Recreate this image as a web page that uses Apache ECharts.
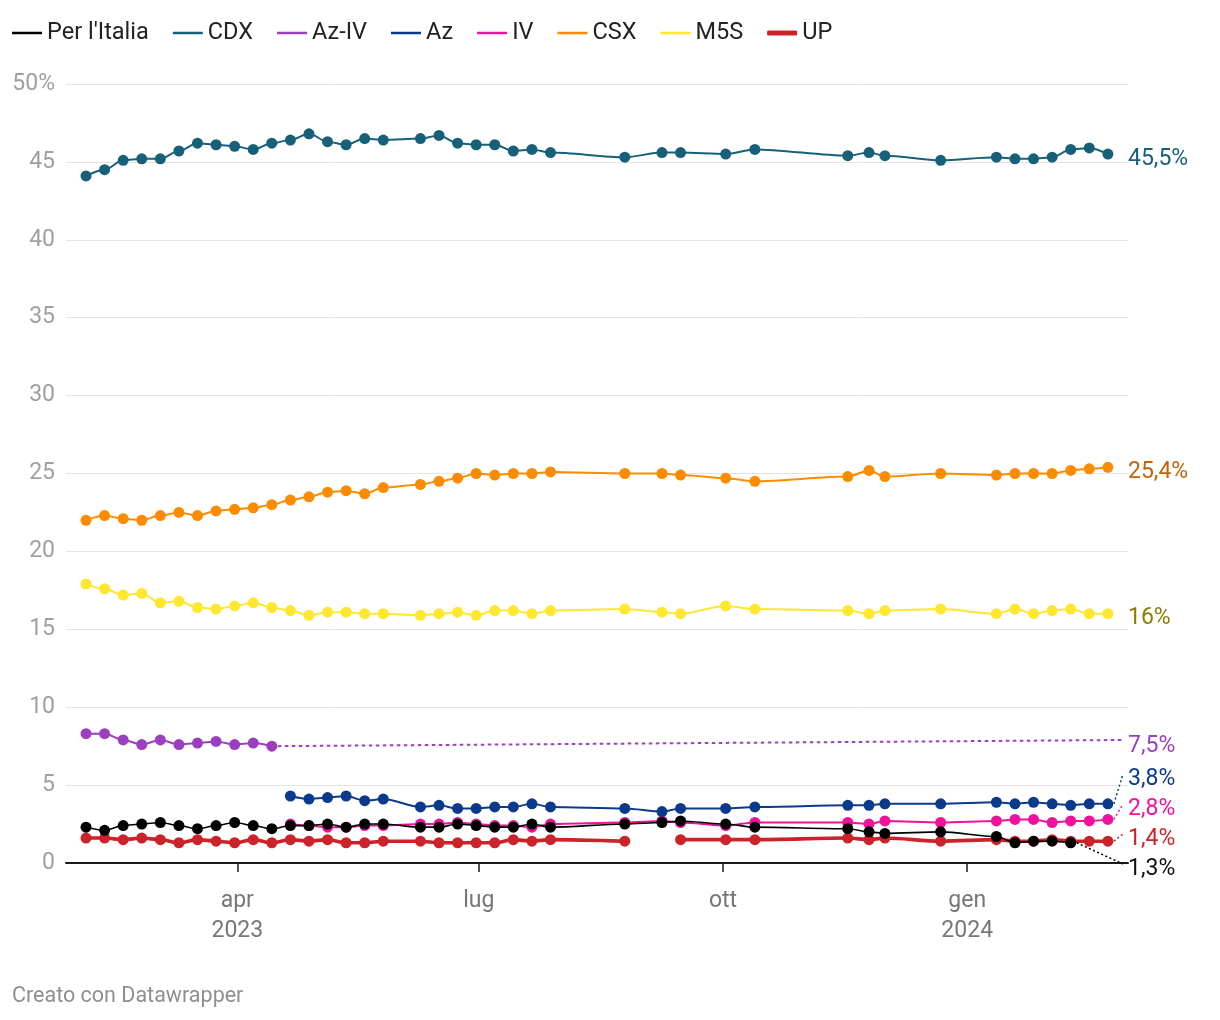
<!DOCTYPE html>
<html>
<head>
<meta charset="utf-8">
<script src="https://cdn.jsdelivr.net/npm/echarts@6/dist/echarts.min.js"></script>
<style>
html,body{margin:0;padding:0;background:#ffffff;}
#chart{width:1220px;height:1020px;}
</style>
</head>
<body>
<div id="chart"></div>
<script>
// ---------- DATA ----------
const dates = [
  '2023-02-03','2023-02-10','2023-02-17','2023-02-24','2023-03-03','2023-03-10','2023-03-17','2023-03-24',
  '2023-03-31','2023-04-07','2023-04-14','2023-04-21','2023-04-28','2023-05-05','2023-05-12','2023-05-19',
  '2023-05-26','2023-06-09','2023-06-16','2023-06-23','2023-06-30','2023-07-07','2023-07-14','2023-07-21',
  '2023-07-28','2023-08-25','2023-09-08','2023-09-15','2023-10-02','2023-10-13','2023-11-17','2023-11-25',
  '2023-12-01','2023-12-22','2024-01-12','2024-01-19','2024-01-26','2024-02-02','2024-02-09','2024-02-16',
  '2024-02-23'
];
const seriesNames = ["Per l'Italia", 'CDX', 'Az-IV', 'Az', 'IV', 'CSX', 'M5S', 'UP'];

const perItalia = [2.3,2.1,2.4,2.5,2.6,2.4,2.2,2.4,2.6,2.4,2.2,2.4,2.4,2.5,2.3,2.5,2.5,
  2.3,2.3,2.5,2.4,2.3,2.3,2.5,2.3,
  2.5,2.6,2.7,2.5,2.3,2.2,2.0,1.9,2.0,1.7,1.3,1.4,1.4,1.3,null,null];
const cdx = [44.1,44.5,45.1,45.2,45.2,45.7,46.2,46.1,46.0,45.8,46.2,46.4,46.8,46.3,46.1,46.5,46.4,
  46.5,46.7,46.2,46.1,46.1,45.7,45.8,45.6,
  45.3,45.6,45.6,45.5,45.8,45.4,45.6,45.4,45.1,45.3,45.2,45.2,45.3,45.8,45.9,45.5];
const azIv = [8.3,8.3,7.9,7.6,7.9,7.6,7.7,7.8,7.6,7.7,7.5,
  null,null,null,null,null,null,null,null,null,null,null,null,null,null,null,
  null,null,null,null,null,null,null,null,null,null,null,null,null,null,null];
const az = [null,null,null,null,null,null,null,null,null,null,null,4.3,4.1,4.2,4.3,4.0,4.1,
  3.6,3.7,3.5,3.5,3.6,3.6,3.8,3.6,
  3.5,3.3,3.5,3.5,3.6,3.7,3.7,3.8,3.8,3.9,3.8,3.9,3.8,3.7,3.8,3.8];
const iv = [null,null,null,null,null,null,null,null,null,null,null,2.5,2.4,2.3,2.3,2.4,2.4,
  2.5,2.5,2.6,2.5,2.4,2.4,2.3,2.5,
  2.6,2.7,2.6,2.4,2.6,2.6,2.5,2.7,2.6,2.7,2.8,2.8,2.6,2.7,2.7,2.8];
const csx = [22.0,22.3,22.1,22.0,22.3,22.5,22.3,22.6,22.7,22.8,23.0,23.3,23.5,23.8,23.9,23.7,24.1,
  24.3,24.5,24.7,25.0,24.9,25.0,25.0,25.1,
  25.0,25.0,24.9,24.7,24.5,24.8,25.2,24.8,25.0,24.9,25.0,25.0,25.0,25.2,25.3,25.4];
const m5s = [17.9,17.6,17.2,17.3,16.7,16.8,16.4,16.3,16.5,16.7,16.4,16.2,15.9,16.1,16.1,16.0,16.0,
  15.9,16.0,16.1,15.9,16.2,16.2,16.0,16.2,
  16.3,16.1,16.0,16.5,16.3,16.2,16.0,16.2,16.3,16.0,16.3,16.0,16.2,16.3,16.0,16.0];
const up = [1.6,1.6,1.5,1.6,1.5,1.3,1.5,1.4,1.3,1.5,1.3,1.5,1.4,1.5,1.3,1.3,1.4,
  1.4,1.3,1.3,1.3,1.3,1.5,1.4,1.5,
  1.4,null,1.5,1.5,1.5,1.6,1.5,1.6,1.4,1.5,1.4,1.4,1.5,1.4,1.4,1.4];

const xTickDates = ['2023-04-01','2023-07-01','2023-10-01','2024-01-01'];
const xTickLabels = ['apr\n2023','lug','ott','gen\n2024'];
const yMin = 0, yMax = 50, yStep = 5;
const footerText = 'Creato con Datawrapper';

// ---------- STYLES ----------
const FONT = 'Roboto, "Noto Sans", sans-serif';
const FS = 23;
const seriesValues = [perItalia, cdx, azIv, az, iv, csx, m5s, up];
const styles = [
  {color:'#000000', width:1.6, label:'#111111', z:9},
  {color:'#176079', width:2,   label:'#176079', z:8},
  {color:'#9b3fbe', width:2,   label:'#9b3fbe', z:7},
  {color:'#0b3a8d', width:2,   label:'#0b3a8d', z:6},
  {color:'#f0129c', width:2,   label:'#f0129c', z:5},
  {color:'#fb8c00', width:2,   label:'#c2630a', z:4},
  {color:'#fde72f', width:2,   label:'#8c7c06', z:3},
  {color:'#cc2229', width:3.6, label:'#cc2229', z:2}
];

function ts(s) {
  const p = s.split('-').map(Number);
  return new Date(p[0], p[1] - 1, p[2]).getTime();
}
const xTickTs = xTickDates.map(ts);
const xMin = new Date(2023, 0, 26, 11).getTime();
const xMax = new Date(2024, 2, 1, 14).getTime();

const thinIcon = 'path://M0,0h30v0.001h-30z M0,1.2h30v2.6h-30z M0,4.999h30v0.001h-30z';

const option = {
  animation: false,
  backgroundColor: '#ffffff',
  textStyle: {fontFamily: FONT},
  grid: {left: 66, right: 92, top: 84, bottom: 157, containLabel: false, outerBoundsMode: 'none'},
  legend: {
    left: 12, top: 21, padding: 0, itemWidth: 30, itemHeight: 5, itemGap: 24, selectedMode: false,
    textStyle: {fontSize: 23.5, color: '#222222', fontFamily: FONT},
    data: seriesNames.map(n => ({name: n, icon: n === 'UP' ? 'roundRect' : thinIcon}))
  },
  xAxis: {
    type: 'value', min: xMin, max: xMax, scale: true,
    axisLine: {show: true, onZero: false, lineStyle: {color: '#1a1a1a', width: 2}},
    axisTick: {show: true, customValues: xTickTs, length: 9, lineStyle: {color: '#1a1a1a', width: 1.5}},
    axisLabel: {
      customValues: xTickTs, color: '#777777', fontSize: FS, lineHeight: 30, margin: 23, fontFamily: FONT,
      formatter: function (v) {
        const i = xTickTs.indexOf(v);
        return i >= 0 ? xTickLabels[i] : '';
      }
    },
    splitLine: {show: false}
  },
  yAxis: {
    type: 'value', min: yMin, max: yMax, interval: yStep,
    axisLine: {show: false}, axisTick: {show: false},
    axisLabel: {
      color: '#a0a0a0', fontSize: FS, margin: 11, fontFamily: FONT,
      formatter: v => (v === yMax ? v + '%' : String(v))
    },
    splitLine: {show: true, lineStyle: {color: '#e4e4e4', width: 1}}
  },
  series: seriesNames.map((name, k) => ({
    type: 'line', name: name,
    data: dates.map((d, i) => [ts(d), seriesValues[k][i] == null ? '-' : seriesValues[k][i]]),
    smooth: 0.3, smoothMonotone: 'x',
    symbol: 'circle', symbolSize: 11, showSymbol: true, showAllSymbol: true,
    connectNulls: false,
    z: styles[k].z,
    lineStyle: {color: styles[k].color, width: styles[k].width},
    itemStyle: {color: styles[k].color},
    emphasis: {disabled: true},
    silent: true
  }))
};

const chart = echarts.init(document.getElementById('chart'), null, {renderer: 'canvas'});
chart.setOption(option);

// ---------- END LABELS (positions computed from the chart's own scales) ----------
function fmt(v) {
  return (Number.isInteger(v) ? String(v) : v.toFixed(1).replace('.', ',')) + '%';
}
const lastIdxAll = dates.length - 1;
const items = seriesNames.map((name, k) => {
  let idx = -1;
  for (let i = seriesValues[k].length - 1; i >= 0; i--) { if (seriesValues[k][i] != null) { idx = i; break; } }
  const v = seriesValues[k][idx];
  const p = chart.convertToPixel({gridIndex: 0}, [ts(dates[idx]), v]);
  return {k: k, idx: idx, v: v, px: p[0], py: p[1], y: p[1]};
});
const gridBottomPx = chart.convertToPixel({gridIndex: 0}, [xMin, yMin])[1];
const rightPx = chart.convertToPixel({gridIndex: 0}, [xMax, yMin])[0];
const GAP = 30, MAXY = gridBottomPx + 1;
let sorted = items.slice().sort((a, b) => a.py - b.py);
let groups = sorted.map(it => ({members: [it]}));
function layout(g) {
  const n = g.members.length;
  const mean = g.members.reduce((s, m) => s + m.py, 0) / n;
  let top = mean - (n - 1) * GAP / 2;
  if (top + (n - 1) * GAP > MAXY) top = MAXY - (n - 1) * GAP;
  g.top = top; g.bottom = top + (n - 1) * GAP;
}
groups.forEach(layout);
let changed = true;
while (changed) {
  changed = false;
  for (let i = 0; i < groups.length - 1; i++) {
    if (groups[i + 1].top - groups[i].bottom < GAP) {
      groups[i].members = groups[i].members.concat(groups[i + 1].members);
      groups.splice(i + 1, 1);
      layout(groups[i]);
      changed = true;
      break;
    }
  }
}
groups.forEach(g => g.members.forEach((m, j) => { m.y = g.top + j * GAP; }));

const graphics = [];
items.forEach(it => {
  const st = styles[it.k];
  const ended = it.idx < lastIdxAll;
  if (ended && it.k === 2) {
    graphics.push({type: 'polyline', z: 20, silent: true,
      shape: {points: [[it.px + 6, it.py], [rightPx - 5, it.y - 4]]},
      style: {stroke: st.color, lineWidth: 2, lineDash: [3.5, 3.5], fill: null}});
  } else if (ended || Math.abs(it.y - it.py) > 1.5) {
    graphics.push({type: 'polyline', z: 20, silent: true,
      shape: {points: [[it.px + 6, it.py], [rightPx - 5, it.y]]},
      style: {stroke: st.color, lineWidth: 1.5, lineDash: [2, 2.5], fill: null}});
  }
  graphics.push({type: 'text', z: 21, silent: true, x: rightPx, y: it.y + (it.k === 2 ? 2 : 5),
    style: {text: fmt(it.v), fill: st.label, font: FS + 'px ' + FONT, textAlign: 'left', textVerticalAlign: 'middle'}});
});
graphics.push({type: 'text', silent: true, left: 12, top: 986,
  style: {text: footerText, fill: '#8f8f8f', font: '21.5px ' + FONT}});
chart.setOption({graphic: graphics});
</script>
</body>
</html>
